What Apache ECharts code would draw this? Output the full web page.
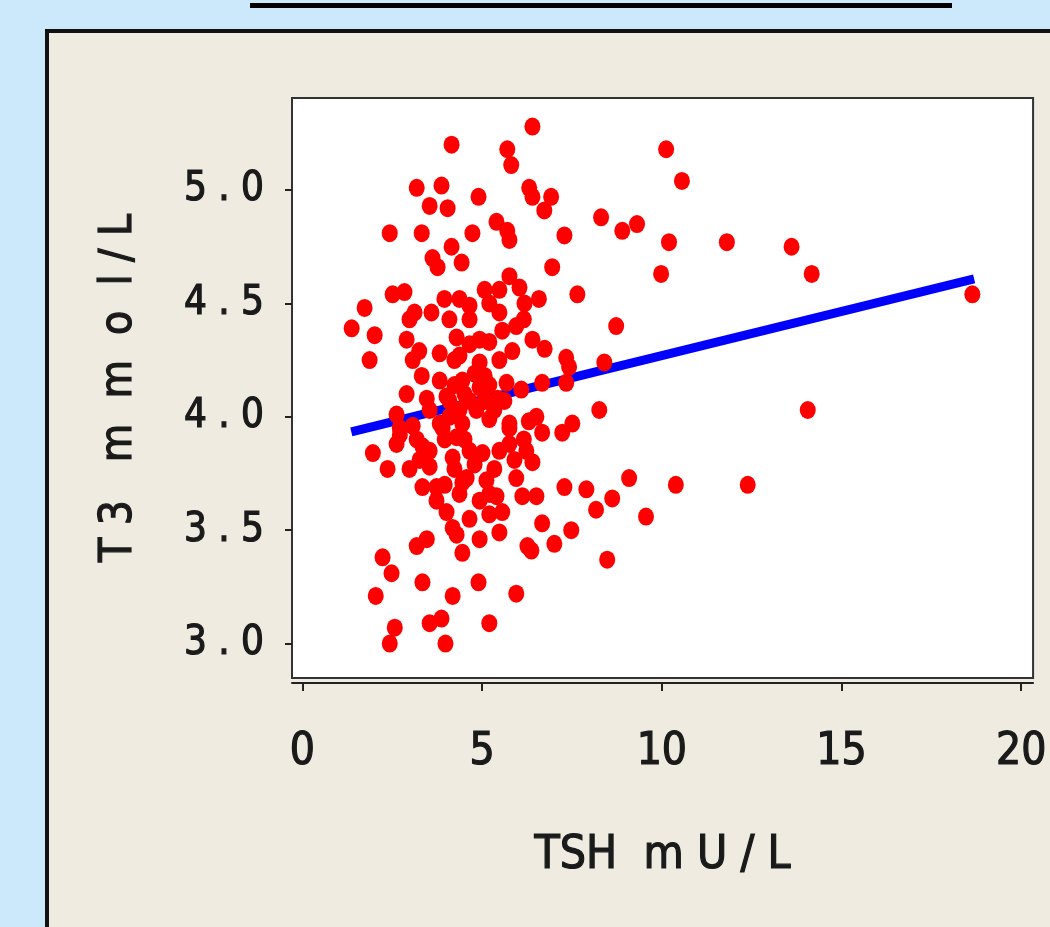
<!DOCTYPE html>
<html>
<head>
<meta charset="utf-8">
<script src="https://cdn.jsdelivr.net/npm/echarts@6/dist/echarts.min.js"></script>
<style>
  html, body { margin: 0; padding: 0; background: #cbe9fb; }
  #panel { position: absolute; left: 45px; top: 29px; width: 1100px; height: 1000px;
           background: #efebe1; border: 4px solid #111; }
  #topline { position: absolute; left: 250px; top: 3px; width: 702px; height: 5px; background: #000; }
  #chart { position: absolute; left: 0; top: 0; width: 1050px; height: 927px; }
</style>
</head>
<body>
<div id="topline"></div>
<div id="panel"></div>
<div id="chart"></div>
<script>
// TSH (mU/L) of each patient
const tsh = [
  6.40, 4.15, 5.70, 5.81, 10.12, 10.56, 3.18, 3.87, 3.54, 4.04,
  4.90, 6.31, 6.40, 6.92, 6.73, 2.43, 3.32, 4.73, 5.40, 5.70,
  5.76, 7.29, 8.31, 8.90, 9.31, 10.20, 11.81, 13.61, 14.17, 9.98,
  6.95, 3.62, 3.76, 4.15, 4.43, 5.76, 6.04, 6.18, 5.07, 7.65,
  2.51, 2.84, 18.64, 1.73, 1.37, 2.01, 1.87, 3.12, 3.59, 2.90,
  3.07, 3.32, 3.82, 4.09, 4.65, 5.48, 5.56, 5.95, 5.20, 6.40,
  5.84, 5.20, 8.73, 7.34, 7.42, 8.40, 4.93, 4.45, 4.93, 5.68,
  6.09, 5.43, 6.67, 7.34, 2.90, 3.46, 4.01, 4.29, 4.23, 4.65,
  6.51, 8.26, 14.06, 2.62, 3.07, 3.82, 4.09, 4.45, 4.84, 5.76,
  7.51, 2.71, 3.18, 3.34, 1.96, 2.37, 2.98, 3.54, 3.34, 3.73,
  3.73, 4.01, 4.18, 4.29, 4.18, 3.90, 4.29, 4.65, 5.01, 4.57,
  5.12, 4.93, 5.40, 5.56, 5.48, 5.76, 5.76, 6.23, 5.95, 6.12,
  6.51, 6.67, 7.23, 6.40, 7.29, 7.90, 8.17, 8.62, 9.09, 10.39,
  12.39, 9.56, 6.67, 7.48, 7.01, 6.37, 8.48, 4.93, 4.45, 3.46,
  3.18, 2.23, 2.48, 2.04, 2.57, 2.43, 3.34, 4.18, 3.54, 3.87,
  3.98, 4.90, 5.20, 5.95, 6.26, 5.20, 4.45, 2.71, 2.62, 4.37,
  4.65, 5.07, 4.23, 5.07, 4.37, 5.20, 3.96, 4.51, 4.79, 3.95,
  4.65, 4.93, 4.37, 4.79, 5.20, 3.82, 4.09, 4.51, 5.34, 5.48,
  5.62, 3.54, 4.23, 3.96, 4.37, 4.65, 5.20, 5.48, 5.34, 5.90,
  3.26, 3.54, 5.48, 6.58, 6.16, 6.74, 2.98, 3.25, 6.30, 6.16
];
// T3 (mmol/L) of the same patients
const t3 = [
  5.28, 5.20, 5.18, 5.11, 5.18, 5.04, 5.01, 5.02, 4.93, 4.92,
  4.97, 5.01, 4.97, 4.97, 4.91, 4.81, 4.81, 4.81, 4.86, 4.82,
  4.78, 4.80, 4.88, 4.82, 4.85, 4.77, 4.77, 4.75, 4.63, 4.63,
  4.66, 4.70, 4.66, 4.75, 4.68, 4.62, 4.57, 4.50, 4.56, 4.54,
  4.54, 4.55, 4.54, 4.48, 4.39, 4.36, 4.25, 4.46, 4.46, 4.34,
  4.25, 4.18, 4.28, 4.43, 4.43, 4.46, 4.38, 4.40, 4.33, 4.34,
  4.29, 4.50, 4.40, 4.26, 4.22, 4.24, 4.24, 4.16, 4.13, 4.15,
  4.12, 4.08, 4.15, 4.15, 4.10, 4.08, 4.09, 4.35, 4.25, 4.07,
  4.00, 4.03, 4.03, 4.01, 3.96, 3.97, 4.00, 3.97, 4.03, 3.97,
  3.97, 3.92, 3.90, 3.87, 3.84, 3.77, 3.77, 3.78, 3.69, 3.69,
  3.63, 3.58, 3.51, 3.48, 3.82, 3.95, 3.91, 3.85, 3.84, 3.73,
  3.72, 3.63, 3.65, 3.58, 3.49, 3.95, 3.88, 3.85, 3.73, 3.65,
  3.65, 3.93, 3.93, 3.80, 3.69, 3.68, 3.59, 3.64, 3.73, 3.70,
  3.70, 3.56, 3.53, 3.50, 3.44, 3.41, 3.37, 3.46, 3.40, 3.46,
  3.43, 3.38, 3.31, 3.21, 3.07, 3.00, 3.27, 3.21, 3.09, 3.11,
  3.00, 3.27, 3.09, 3.22, 3.43, 3.66, 3.71, 3.95, 3.88, 4.52,
  4.32, 4.18, 4.14, 4.07, 4.03, 3.99, 3.90, 3.90, 3.79, 4.52,
  4.49, 4.34, 4.27, 4.19, 4.14, 4.16, 4.07, 4.10, 4.03, 4.25,
  4.07, 4.03, 3.77, 3.70, 3.66, 3.55, 3.57, 3.85, 3.77, 3.81,
  3.81, 3.85, 4.56, 4.52, 4.43, 4.30, 4.43, 4.29, 3.98, 3.90
];
// fitted regression line
const fitTsh = [1.36, 18.69];
const fitT3 = [3.934, 4.608];

const xTicks = [0, 5, 10, 15, 20];
const yTicks = [3.0, 3.5, 4.0, 4.5, 5.0];

const font = '"Liberation Sans Narrow", "DejaVu Sans Condensed", "DejaVu Sans", sans-serif';
const ink = '#1a1a1a';
// a thin outline in the text colour gives the slightly heavy look of the original
const heavy = { fontFamily: font, color: ink, textBorderColor: ink, textBorderWidth: 1.2 };

const points = tsh.map((v, i) => [v, t3[i]]);
const fitLine = fitTsh.map((v, i) => [v, fitT3[i]]);

const chart = echarts.init(document.getElementById('chart'), null, { renderer: 'canvas' });
chart.setOption({
  animation: false,
  backgroundColor: 'transparent',
  grid: {
    left: 292, top: 98, width: 743, height: 580,
    show: true, backgroundColor: '#ffffff',
    borderColor: '#333', borderWidth: 2
  },
  xAxis: {
    type: 'value',
    min: -0.29, max: 20.33,
    offset: 5,
    splitLine: { show: false },
    axisLine: { show: true, onZero: false, lineStyle: { color: '#222', width: 2 } },
    axisTick: { show: true, customValues: xTicks, length: 8, lineStyle: { color: '#222', width: 2 } },
    axisLabel: Object.assign({ customValues: xTicks, margin: 48, fontSize: 44 }, heavy),
    name: 'TSH  m U / L',
    nameLocation: 'middle',
    nameGap: 150,
    nameTextStyle: Object.assign({ fontSize: 46 }, heavy)
  },
  yAxis: {
    type: 'value',
    min: 2.848, max: 5.406,
    splitLine: { show: false },
    axisLine: { show: true, onZero: false, lineStyle: { color: '#333', width: 2 } },
    axisTick: { show: true, customValues: yTicks, length: 7, lineStyle: { color: '#222', width: 2 } },
    axisLabel: Object.assign({
      customValues: yTicks, margin: 28, fontSize: 40,
      formatter: v => v.toFixed(1).split('').join(' ')
    }, heavy),
    name: 'T 3   m  m  o  l / L',
    nameLocation: 'middle',
    nameRotate: 90,
    nameGap: 150,
    nameTextStyle: Object.assign({ fontSize: 44 }, heavy)
  },
  series: [
    {
      type: 'line',
      data: fitLine,
      symbol: 'none',
      silent: true,
      z: 2,
      lineStyle: { color: '#0000ff', width: 9 }
    },
    {
      type: 'scatter',
      data: points,
      symbol: 'circle',
      symbolSize: [16, 18],
      z: 3,
      itemStyle: { color: '#ff0000', opacity: 1 }
    }
  ]
});
</script>
</body>
</html>
